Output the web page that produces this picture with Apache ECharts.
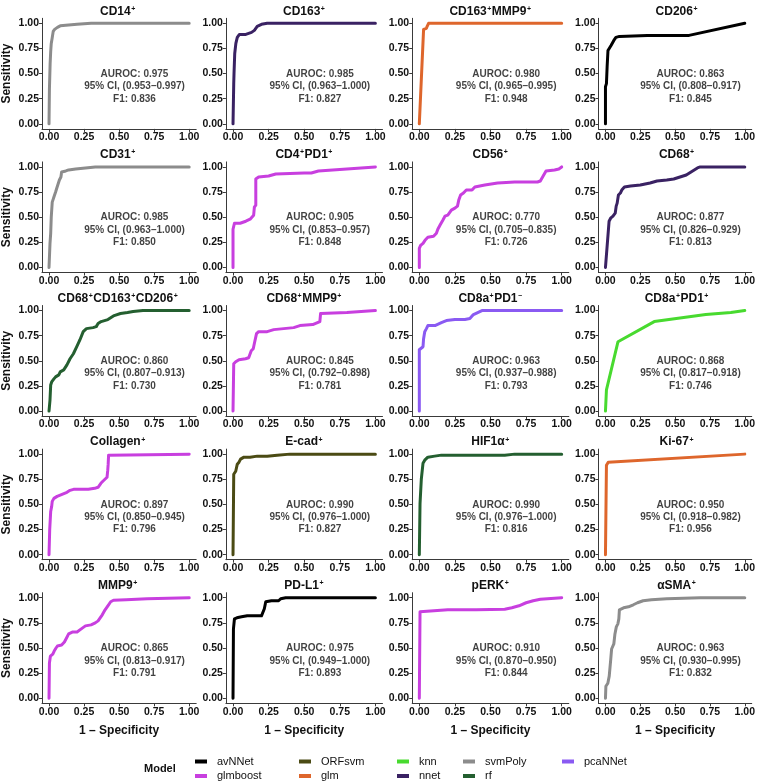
<!DOCTYPE html>
<html><head><meta charset="utf-8">
<script src="https://cdn.jsdelivr.net/npm/echarts@6/dist/echarts.min.js"></script>
<style>html,body{margin:0;padding:0;background:#fff}#c{width:758px;height:783px}</style>
</head><body><div id="c"></div>
<script>
// ---- data ----
const panelTitles = ['CD14⁺','CD163⁺','CD163⁺MMP9⁺','CD206⁺','CD31⁺','CD4⁺PD1⁺','CD56⁺','CD68⁺',
  'CD68⁺CD163⁺CD206⁺','CD68⁺MMP9⁺','CD8a⁺PD1⁻','CD8a⁺PD1⁺','Collagen⁺','E-cad⁺','HIF1α⁺','Ki-67⁺',
  'MMP9⁺','PD-L1⁺','pERK⁺','αSMA⁺'];
const panelModels = ['svmPoly','nnet','glm','avNNet','svmPoly','glmboost','glmboost','nnet',
  'rf','glmboost','pcaNNet','knn','glmboost','ORFsvm','rf','glm','glmboost','avNNet','glmboost','svmPoly'];
const aurocValues = ['0.975','0.985','0.980','0.863','0.985','0.905','0.770','0.877','0.860','0.845',
  '0.963','0.868','0.897','0.990','0.990','0.950','0.865','0.975','0.910','0.963'];
const ciLower = ['0.953','0.963','0.965','0.808','0.963','0.853','0.705','0.826','0.807','0.792',
  '0.937','0.817','0.850','0.976','0.976','0.918','0.813','0.949','0.870','0.930'];
const ciUpper = ['0.997','1.000','0.995','0.917','1.000','0.957','0.835','0.929','0.913','0.898',
  '0.988','0.918','0.945','1.000','1.000','0.982','0.917','1.000','0.950','0.995'];
const f1Values = ['0.836','0.827','0.948','0.845','0.850','0.848','0.726','0.813','0.730','0.781',
  '0.793','0.746','0.796','0.827','0.816','0.956','0.791','0.893','0.844','0.832'];
const modelNames = ['avNNet','glmboost','ORFsvm','glm','knn','nnet','svmPoly','rf','pcaNNet'];
const modelColors = ['#000000','#C83FDF','#4B4B14','#DE662C','#48DA2F','#3A2263','#8C8C8C','#245F30','#8A5AF2'];
const tickValues = [0, 0.25, 0.5, 0.75, 1];

const rocCD14 = [[0,0],[0.003,0.35],[0.008,0.6],[0.012,0.72],[0.016,0.8],[0.022,0.85],[0.03,0.92],[0.04,0.94],[0.06,0.96],[0.08,0.975],[0.12,0.98],[0.2,0.99],[0.3,1],[1,1]];
const rocCD163 = [[0,0],[0.005,0.4],[0.007,0.5],[0.012,0.7],[0.02,0.8],[0.03,0.86],[0.045,0.89],[0.09,0.89],[0.13,0.91],[0.15,0.93],[0.17,0.97],[0.2,0.99],[0.24,1],[1,1]];
const rocCD163MMP9 = [[0,0],[0.03,0.94],[0.05,0.95],[0.055,0.97],[0.065,1],[1,1]];
const rocCD206 = [[0,0],[0,0.37],[0.007,0.4],[0.012,0.57],[0.018,0.73],[0.03,0.74],[0.04,0.78],[0.06,0.83],[0.075,0.86],[0.1,0.87],[0.3,0.88],[0.6,0.88],[1,1]];
const rocCD31 = [[0,0],[0.007,0.24],[0.012,0.34],[0.016,0.5],[0.023,0.65],[0.035,0.7],[0.047,0.75],[0.058,0.8],[0.074,0.87],[0.085,0.9],[0.09,0.95],[0.12,0.96],[0.14,0.97],[0.19,0.98],[0.26,0.99],[0.33,1],[1,1]];
const rocCD4PD1 = [[0,0],[0,0.38],[0.01,0.44],[0.05,0.44],[0.09,0.46],[0.12,0.48],[0.145,0.52],[0.15,0.6],[0.16,0.62],[0.16,0.88],[0.18,0.9],[0.25,0.91],[0.3,0.93],[0.5,0.94],[0.55,0.94],[0.6,0.96],[0.8,0.98],[1,1]];
const rocCD56 = [[0,0],[0,0.19],[0.009,0.22],[0.026,0.24],[0.04,0.27],[0.06,0.3],[0.1,0.31],[0.12,0.34],[0.13,0.38],[0.145,0.42],[0.165,0.47],[0.18,0.51],[0.2,0.52],[0.225,0.57],[0.25,0.59],[0.268,0.61],[0.277,0.67],[0.29,0.72],[0.31,0.74],[0.33,0.77],[0.37,0.77],[0.39,0.8],[0.46,0.82],[0.55,0.84],[0.67,0.85],[0.83,0.85],[0.85,0.86],[0.87,0.91],[0.89,0.96],[0.95,0.97],[0.98,0.98],[1,1]];
const rocCD68 = [[0,0],[0.026,0.46],[0.037,0.49],[0.054,0.51],[0.07,0.54],[0.077,0.61],[0.084,0.64],[0.093,0.72],[0.107,0.74],[0.117,0.77],[0.136,0.8],[0.18,0.81],[0.25,0.82],[0.32,0.84],[0.37,0.86],[0.44,0.87],[0.49,0.88],[0.58,0.92],[0.66,0.99],[0.68,1],[1,1]];
const rocCD68CD163CD206 = [[0,0],[0.007,0.11],[0.012,0.26],[0.019,0.29],[0.035,0.32],[0.047,0.34],[0.07,0.36],[0.08,0.39],[0.105,0.41],[0.128,0.46],[0.15,0.52],[0.174,0.57],[0.198,0.64],[0.221,0.71],[0.244,0.79],[0.267,0.82],[0.314,0.83],[0.337,0.84],[0.35,0.87],[0.372,0.89],[0.42,0.91],[0.465,0.95],[0.51,0.97],[0.56,0.98],[0.6,0.99],[0.67,1],[1,1]];
const rocCD68MMP9 = [[0,0],[0.005,0.47],[0.019,0.49],[0.042,0.51],[0.088,0.52],[0.11,0.53],[0.128,0.6],[0.142,0.62],[0.151,0.68],[0.165,0.77],[0.18,0.79],[0.24,0.79],[0.286,0.81],[0.356,0.82],[0.426,0.83],[0.47,0.85],[0.56,0.86],[0.61,0.89],[0.615,0.97],[0.8,0.98],[1,1]];
const rocCD8aPD1neg = [[0,0],[0,0.61],[0.014,0.62],[0.026,0.64],[0.03,0.72],[0.038,0.79],[0.05,0.82],[0.06,0.85],[0.11,0.85],[0.14,0.87],[0.155,0.88],[0.19,0.9],[0.25,0.91],[0.32,0.91],[0.355,0.92],[0.38,0.96],[0.41,0.98],[0.44,1],[1,1]];
const rocCD8aPD1pos = [[0,0],[0.007,0.21],[0.09,0.69],[0.35,0.89],[0.72,0.96],[0.9,0.98],[1,1]];
const rocCollagen = [[0,0],[0.005,0.25],[0.012,0.43],[0.019,0.48],[0.023,0.53],[0.035,0.56],[0.058,0.58],[0.093,0.6],[0.128,0.62],[0.15,0.64],[0.175,0.65],[0.28,0.65],[0.326,0.66],[0.35,0.67],[0.37,0.71],[0.384,0.73],[0.395,0.74],[0.414,0.77],[0.419,0.84],[0.422,0.9],[0.425,0.99],[0.43,1],[1,1]];
const rocEcad = [[0,0],[0.005,0.8],[0.019,0.83],[0.03,0.9],[0.042,0.92],[0.053,0.95],[0.077,0.97],[0.12,0.97],[0.17,0.98],[0.24,0.98],[0.31,0.99],[0.4,1],[1,1]];
const rocHIF1a = [[0,0],[0.005,0.51],[0.014,0.75],[0.026,0.91],[0.038,0.94],[0.06,0.97],[0.108,0.98],[0.155,0.99],[0.6,0.99],[0.67,1],[1,1]];
const rocKi67 = [[0,0],[0.007,0.89],[0.015,0.9],[0.02,0.92],[0.03,0.93],[1,1]];
const rocMMP9 = [[0,0],[0.003,0.35],[0.01,0.42],[0.027,0.44],[0.037,0.47],[0.05,0.5],[0.06,0.52],[0.09,0.53],[0.11,0.56],[0.125,0.6],[0.14,0.64],[0.17,0.66],[0.2,0.66],[0.23,0.69],[0.26,0.72],[0.3,0.73],[0.33,0.75],[0.35,0.77],[0.38,0.83],[0.4,0.88],[0.42,0.92],[0.44,0.96],[0.46,0.975],[0.55,0.98],[0.7,0.99],[1,1]];
const rocPDL1 = [[0,0],[0.003,0.69],[0.01,0.79],[0.027,0.8],[0.06,0.81],[0.1,0.82],[0.2,0.82],[0.22,0.89],[0.23,0.96],[0.27,0.97],[0.32,0.97],[0.335,0.99],[0.37,1],[1,1]];
const rocPERK = [[0,0],[0.005,0.86],[0.01,0.87],[0.2,0.88],[0.4,0.88],[0.6,0.885],[0.65,0.9],[0.7,0.92],[0.75,0.95],[0.8,0.97],[0.85,0.985],[0.9,0.99],[1,1]];
const rocASMA = [[0,0],[0.003,0.12],[0.017,0.15],[0.027,0.22],[0.038,0.39],[0.044,0.49],[0.06,0.54],[0.068,0.64],[0.078,0.71],[0.089,0.74],[0.096,0.79],[0.1,0.88],[0.13,0.9],[0.165,0.91],[0.2,0.93],[0.23,0.95],[0.27,0.97],[0.33,0.98],[0.44,0.99],[0.68,1],[1,1]];

const rocCurves = [rocCD14, rocCD163, rocCD163MMP9, rocCD206, rocCD31, rocCD4PD1, rocCD56, rocCD68,
  rocCD68CD163CD206, rocCD68MMP9, rocCD8aPD1neg, rocCD8aPD1pos, rocCollagen, rocEcad, rocHIF1a, rocKi67,
  rocMMP9, rocPDL1, rocPERK, rocASMA];

// ---- layout ----
const FONT = '"Liberation Sans", Arial, Helvetica, sans-serif';
const NCOL = 4;
const G_LEFT0 = 39.6, G_DX = 186.3, G_W = 156.6;
const G_TOP0 = 18.3, G_DY = 143.6, G_H = 110.6;
const ANNOT_POS = [0.61, 0.372];

// convert "CD14⁺" into rich text with small raised signs
function richTitle(t) {
  let out = '', buf = '';
  for (const ch of t) {
    if (ch === '⁺' || ch === '⁻') {
      if (buf) { out += '{m|' + buf + '}'; buf = ''; }
      out += '{s|' + (ch === '⁺' ? '+' : '−') + '}';
    } else buf += ch;
  }
  if (buf) out += '{m|' + buf + '}';
  return out;
}

const grids = [], xAxes = [], yAxes = [], series = [], titles = [];
const colorOf = m => modelColors[modelNames.indexOf(m)];

rocCurves.forEach((curve, i) => {
  const r = Math.floor(i / NCOL), c = i % NCOL;
  const left = G_LEFT0 + c * G_DX, top = G_TOP0 + r * G_DY;
  grids.push({ left: left, top: top, width: G_W, height: G_H, containLabel: false });
  const axisCommon = {
    gridIndex: i, type: 'value', min: -0.05, max: 1.05,
    splitLine: { show: false },
    axisLine: { show: true, onZero: false, lineStyle: { color: '#3a3a3a', width: 1 } },
    axisTick: { show: true, customValues: tickValues, length: 3, lineStyle: { color: '#3a3a3a', width: 1 } },
    axisLabel: { customValues: tickValues, formatter: v => v.toFixed(2), margin: 3,
      fontSize: 10.5, fontWeight: 'bold', color: '#111', fontFamily: FONT }
  };
  xAxes.push(Object.assign({}, axisCommon, r === 4 ? {
    name: '1 – Specificity', nameLocation: 'middle', nameGap: 21,
    nameTextStyle: { fontSize: 12, fontWeight: 'bold', color: '#111', fontFamily: FONT }
  } : {}));
  yAxes.push(Object.assign({}, axisCommon, c === 0 ? {
    name: 'Sensitivity', nameLocation: 'middle', nameGap: 29, nameRotate: 90,
    nameTextStyle: { fontSize: 12, fontWeight: 'bold', color: '#111', fontFamily: FONT }
  } : {}));
  titles.push({
    text: richTitle(panelTitles[i]), left: left + G_W / 2, top: top - 13, textAlign: 'center', padding: 0,
    textStyle: { fontSize: 12, fontWeight: 'bold', color: '#111', fontFamily: FONT,
      rich: {
        m: { fontSize: 12, fontWeight: 'bold', color: '#111', fontFamily: FONT },
        s: { fontSize: 7, fontWeight: 'bold', color: '#111', fontFamily: FONT, verticalAlign: 'top', padding: [0, 0.5, 0, 0.5] }
      } }
  });
  series.push({
    type: 'line', name: panelModels[i], xAxisIndex: i, yAxisIndex: i, data: curve,
    showSymbol: false, symbol: 'none', animation: false, clip: false,
    lineStyle: { width: 3, color: colorOf(panelModels[i]), cap: 'round', join: 'round' },
    itemStyle: { color: colorOf(panelModels[i]) }
  });
  series.push({
    type: 'scatter', name: 'annot' + i, xAxisIndex: i, yAxisIndex: i, silent: true, animation: false,
    data: [ANNOT_POS], symbolSize: 1, itemStyle: { color: 'rgba(0,0,0,0)' },
    label: { show: true, position: 'inside', align: 'center', verticalAlign: 'middle',
      formatter: 'AUROC: ' + aurocValues[i] + '\n95% CI, (' + ciLower[i] + '–' + ciUpper[i] + ')\nF1: ' + f1Values[i],
      fontSize: 10, lineHeight: 12.4, fontWeight: 'bold', color: '#111', fontFamily: FONT }
  });
});

// legend: column-major, 5 columns x 2 rows
const legendKeyX = [195, 299, 397, 463, 562];
const legendRowY = [762, 776.5];
const legends = modelNames.map((m, k) => ({
  data: [m], orient: 'horizontal', padding: 0, selectedMode: false,
  left: legendKeyX[Math.floor(k / 2)], top: legendRowY[k % 2] - 6,
  icon: 'rect', itemWidth: 12, itemHeight: 4, itemGap: 0,
  textStyle: { fontSize: 11, color: '#111', fontFamily: FONT, padding: [0, 0, 0, 5] }
}));
titles.push({ text: 'Model', left: 144, top: 763, padding: 0,
  textStyle: { fontSize: 11, fontWeight: 'bold', color: '#111', fontFamily: FONT } });

const chart = echarts.init(document.getElementById('c'), null, { renderer: 'canvas' });
chart.setOption({
  animation: false, backgroundColor: '#fff',
  title: titles, grid: grids, xAxis: xAxes, yAxis: yAxes, legend: legends, series: series
});
</script></body></html>
